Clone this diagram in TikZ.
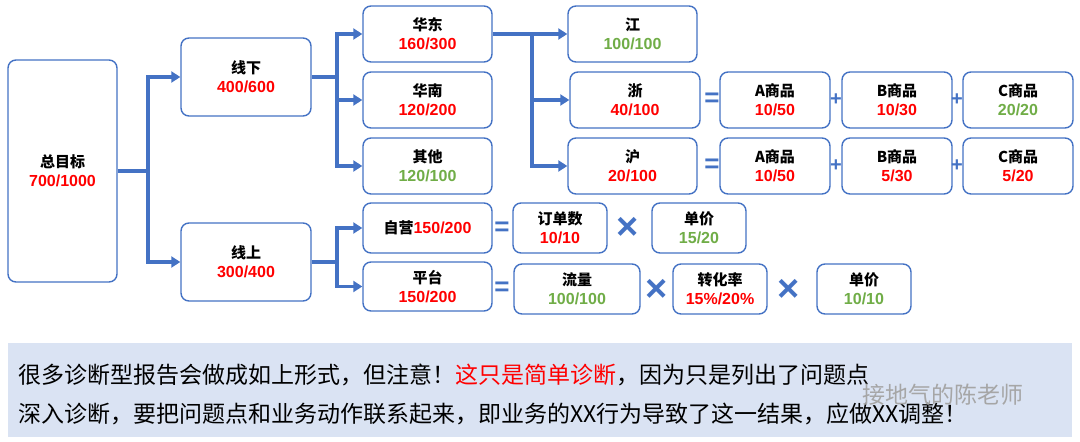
\documentclass[tikz,border=0pt]{standalone}
\usepackage{fontspec}
\setmainfont{Liberation Sans}
\newfontfamily\cjk{Noto Sans CJK SC}
\usetikzlibrary{arrows.meta}
\definecolor{bl}{HTML}{4472C4}
\definecolor{rd}{HTML}{FF0000}
\definecolor{gr}{HTML}{70AD47}
\definecolor{bg}{HTML}{DAE3F3}
\newcommand{\R}[1]{{\rmfamily\bfseries\fontsize{16}{18}\selectfont\textcolor{rd}{#1}}}
\newcommand{\G}[1]{{\rmfamily\bfseries\fontsize{16}{18}\selectfont\textcolor{gr}{#1}}}
\begin{document}
\begin{tikzpicture}[x=1pt,y=-1pt,
 box/.style={draw=bl,line width=1.4pt,rounded corners=8pt,fill=white,align=center,inner sep=0pt,font=\cjk\bfseries\fontsize{15}{19}\selectfont},
 link/.style={draw=bl,line width=3.5pt},
 arr/.style={link,-{Triangle[length=9pt,width=11pt]}},
 op/.style={text=bl,font=\rmfamily\bfseries\fontsize{26}{26}\selectfont,inner sep=0pt},
 pl/.style={op,font=\rmfamily\bfseries\fontsize{20}{20}\selectfont},
 mul/.style={op,font=\rmfamily\bfseries\fontsize{38}{38}\selectfont}]
\useasboundingbox (0,0) rectangle (1080,442);
\newcommand{\bx}[6]{\node[box,minimum width=#4-#2,minimum height=#5-#3] (#1) at ({(#2+#4)/2},{(#3+#5)/2}) {#6};}
\bx{tot}{8}{60}{117}{282}{总目标\\\R{700/1000}}
\bx{xx}{181}{38}{311}{116}{线下\\\R{400/600}}
\bx{xs}{181}{223}{311}{301}{线上\\\R{300/400}}
\bx{hd}{363}{6}{492}{62}{华东\\\R{160/300}}
\bx{hn}{363}{72}{492}{128}{华南\\\R{120/200}}
\bx{qt}{363}{138}{492}{194}{其他\\\G{120/100}}
\bx{zy}{363}{203}{492}{253}{自营\R{150/200}}
\bx{pt}{363}{262}{492}{311}{平台\\\R{150/200}}
\bx{j}{568}{6}{697}{62}{江\\\G{100/100}}
\bx{z}{570}{72}{700}{128}{浙\\\R{40/100}}
\bx{h}{568}{138}{697}{194}{沪\\\R{20/100}}
\bx{za}{720}{72}{830}{128}{A商品\\\R{10/50}}
\bx{zb}{842}{72}{952}{128}{B商品\\\R{10/30}}
\bx{zc}{963}{72}{1073}{128}{C商品\\\G{20/20}}
\bx{ha}{720}{138}{830}{194}{A商品\\\R{10/50}}
\bx{hb}{842}{138}{952}{194}{B商品\\\R{5/30}}
\bx{hc}{963}{138}{1073}{194}{C商品\\\R{5/20}}
\bx{dd}{513}{203}{607}{253}{订单数\\\R{10/10}}
\bx{dj}{652}{203}{746}{253}{单价\\\G{15/20}}
\bx{ll}{514}{264}{640}{314}{流量\\\G{100/100}}
\bx{zh}{673}{264}{767}{314}{转化率\\\R{15\%/20\%}}
\bx{dj2}{817}{264}{911}{314}{单价\\\G{10/10}}
% operators
\node[op] (e1) at (712,100) {=};
\node[op] (e2) at (712,166) {=};
\node[op] (e3) at (502,229) {=};
\node[op] (e4) at (502,289) {=};
\node[pl] (p1) at (836,100) {+};
\node[pl] (p2) at (957,100) {+};
\node[pl] (p3) at (836,166) {+};
\node[pl] (p4) at (957,166) {+};
\node[mul] (m1) at (628,228) {×};
\node[mul] (m2) at (657,290) {×};
\node[mul] (m3) at (789,290) {×};
% connectors
\coordinate (t1) at (148,171);
\draw[link] (tot.east) -- (t1);
\draw[arr] (t1) |- (xx.west);
\draw[arr] (t1) |- (xs.west);
\coordinate (t2) at (337,77);
\draw[link] (xx.east) -- (t2);
\draw[arr] (t2) |- (hd.west);
\draw[arr] (t2) |- (hn.west);
\draw[arr] (t2) |- (qt.west);
\coordinate (t3) at (337,262);
\draw[link] (xs.east) -- (t3);
\draw[arr] (t3) |- (zy.west);
\draw[arr] (t3) |- (pt.west);
\coordinate (t4) at (532,34);
\draw[arr] (hd.east) -- (j.west);
\draw[arr] (t4) |- (z.west);
\draw[arr] (t4) |- (h.west);
% bottom panel
\node[fill=bg,minimum width=1064,minimum height=94,inner sep=0pt] (pn) at (540,390) {};
\node[anchor=west,inner sep=0pt,font=\cjk\fontsize{23}{26}\selectfont] (l1) at (18,375) {很多诊断型报告会做成如上形式，但注意！\textcolor{rd}{这只是简单诊断}，因为只是列出了问题点};
\node[anchor=west,inner sep=0pt,font=\cjk\fontsize{23}{26}\selectfont] (l2) at (18,414) {深入诊断，要把问题点和业务动作联系起来，即业务的XX行为导致了这一结果，应做XX调整！};
\node[anchor=west,inner sep=0pt,text=gray!70,font=\cjk\fontsize{23}{26}\selectfont] (wm) at (862,395) {接地气的陈老师};
\end{tikzpicture}
\end{document}
